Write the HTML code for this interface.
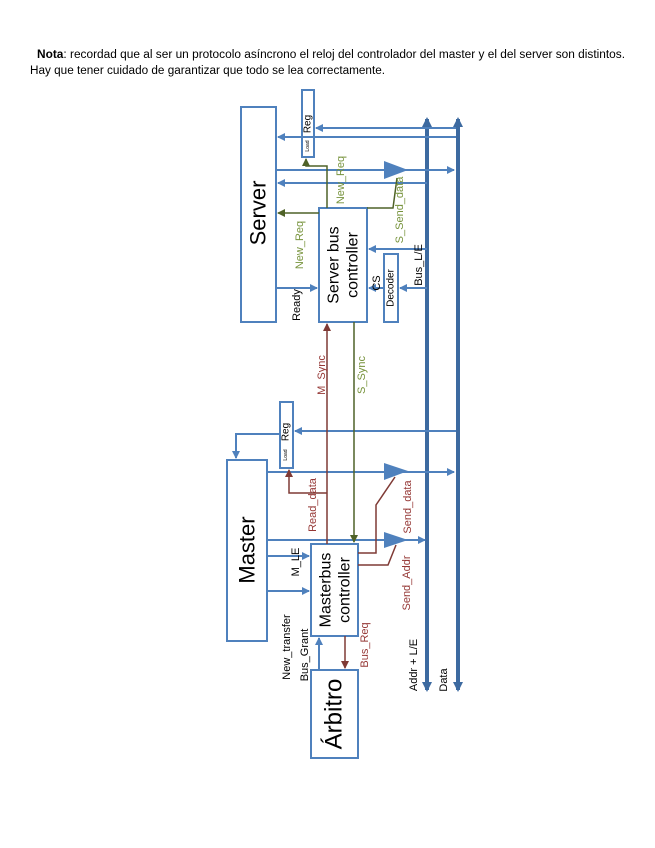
<!DOCTYPE html>
<html><head><meta charset="utf-8"><style>
html,body{margin:0;padding:0;background:#fff;}
svg{display:block;font-family:"Liberation Sans",sans-serif;}
</style></head><body>
<svg width="655" height="848" viewBox="0 0 655 848" xmlns="http://www.w3.org/2000/svg">
<defs>
<marker id="ab" markerWidth="8" markerHeight="8" refX="7" refY="4" orient="auto" markerUnits="userSpaceOnUse"><path d="M0,0 L8,4 L0,8 z" fill="#4f81bd"/></marker>
<marker id="ag" markerWidth="8" markerHeight="8" refX="7" refY="4" orient="auto" markerUnits="userSpaceOnUse"><path d="M0,0 L8,4 L0,8 z" fill="#4f6228"/></marker>
<marker id="ar" markerWidth="8" markerHeight="8" refX="7" refY="4" orient="auto" markerUnits="userSpaceOnUse"><path d="M0,0 L8,4 L0,8 z" fill="#7f3a35"/></marker>
<marker id="ad" markerWidth="10" markerHeight="10" refX="8" refY="5" orient="auto" markerUnits="userSpaceOnUse"><path d="M0,0 L10,5 L0,10 z" fill="#3d6aa0"/></marker>
</defs>
<text x="37" y="58" font-size="11.5" textLength="588" lengthAdjust="spacingAndGlyphs"><tspan font-weight="bold">Nota</tspan>: recordad que al ser un protocolo asíncrono el reloj del controlador del master y el del server son distintos.</text>
<text x="30" y="74" font-size="11.5" textLength="355" lengthAdjust="spacingAndGlyphs">Hay que tener cuidado de garantizar que todo se lea correctamente.</text>

<g fill="none" stroke="#4f81bd" stroke-width="2">
<!-- buses -->
<line x1="427" y1="690" x2="427" y2="119" stroke="#3d6aa0" stroke-width="4" marker-end="url(#ad)"/>
<line x1="458" y1="690" x2="458" y2="119" stroke="#3d6aa0" stroke-width="4" marker-end="url(#ad)"/>
<line x1="427" y1="660" x2="427" y2="690" stroke="#3d6aa0" stroke-width="4" marker-end="url(#ad)"/>
<line x1="458" y1="660" x2="458" y2="690" stroke="#3d6aa0" stroke-width="4" marker-end="url(#ad)"/>

<!-- server -->
<rect x="241" y="107" width="35" height="215"/>
<rect x="302" y="90" width="12" height="67"/>
<line x1="456" y1="128" x2="316" y2="128" marker-end="url(#ab)"/>
<line x1="456" y1="137" x2="278" y2="137" marker-end="url(#ab)"/>
<line x1="276" y1="170" x2="454" y2="170" marker-end="url(#ab)"/>
<line x1="427" y1="183" x2="278" y2="183" marker-end="url(#ab)"/>
<rect x="319" y="208" width="48" height="114"/>
<line x1="427" y1="249" x2="369" y2="249" marker-end="url(#ab)"/>
<rect x="384" y="254" width="14" height="68"/>
<line x1="427" y1="288" x2="400" y2="288" marker-end="url(#ab)"/>
<line x1="384" y1="288" x2="369" y2="288" marker-end="url(#ab)"/>
<line x1="276" y1="288" x2="317" y2="288" marker-end="url(#ab)"/>

<!-- master -->
<rect x="227" y="460" width="40" height="181"/>
<rect x="280" y="402" width="13" height="66"/>
<line x1="456" y1="431" x2="295" y2="431" marker-end="url(#ab)"/>
<polyline points="280,434 236,434 236,458" marker-end="url(#ab)"/>
<line x1="267" y1="472" x2="454" y2="472" marker-end="url(#ab)"/>
<line x1="267" y1="540" x2="425" y2="540" marker-end="url(#ab)"/>
<rect x="311" y="544" width="47" height="92"/>
<line x1="267" y1="556" x2="309" y2="556" marker-end="url(#ab)"/>
<line x1="267" y1="591" x2="309" y2="591" marker-end="url(#ab)"/>
<rect x="311" y="670" width="47" height="88"/>
<line x1="319" y1="670" x2="319" y2="638" marker-end="url(#ab)"/>
</g>
<polygon points="384,161 408,170 384,179" fill="#4f81bd"/>
<polygon points="384,463 408,471 384,480" fill="#4f81bd"/>
<polygon points="384,532 408,540 384,548" fill="#4f81bd"/>

<g fill="none" stroke="#4f6228" stroke-width="1.5">
<polyline points="327,208 327,166 306,166 306,159" marker-end="url(#ag)"/>
<line x1="319" y1="213" x2="278" y2="213" marker-end="url(#ag)"/>
<polyline points="367,208 393,208 397,178"/>
<line x1="354" y1="322" x2="354" y2="542" marker-end="url(#ag)"/>
</g>
<g fill="none" stroke="#7f3a35" stroke-width="1.5">
<line x1="327" y1="544" x2="327" y2="324" marker-end="url(#ar)"/>
<polyline points="327,493 289,493 289,470" marker-end="url(#ar)"/>
<polyline points="358,553 376,553 376,505 395,477"/>
<polyline points="358,565 388,565 396,545"/>
<line x1="345" y1="636" x2="345" y2="668" marker-end="url(#ar)"/>
</g>

<g dominant-baseline="central" text-anchor="middle">
<text transform="translate(258,213) rotate(-90)" font-size="22">Server</text>
<text transform="translate(334,265) rotate(-90)" font-size="16">Server bus</text>
<text transform="translate(353,265) rotate(-90)" font-size="16">controller</text>
<text transform="translate(391,288) rotate(-90)" font-size="10">Decoder</text>
<text transform="translate(308,124) rotate(-90)" font-size="10">Reg</text>
<text transform="translate(308,146) rotate(-90)" font-size="5">Load</text>
<text transform="translate(286,432) rotate(-90)" font-size="10">Reg</text>
<text transform="translate(286,455) rotate(-90)" font-size="5">Load</text>
<text transform="translate(247,550) rotate(-90)" font-size="22">Master</text>
<text transform="translate(326,590) rotate(-90)" font-size="16">Masterbus</text>
<text transform="translate(345,590) rotate(-90)" font-size="16">controller</text>
<text transform="translate(334,714) rotate(-90)" font-size="24">Árbitro</text>

<text transform="translate(341,180) rotate(-90)" font-size="11" fill="#77933c">New_Req</text>
<text transform="translate(300,245) rotate(-90)" font-size="11" fill="#77933c">New_Req</text>
<text transform="translate(400,210) rotate(-90)" font-size="11" fill="#77933c">S_Send_data</text>
<text transform="translate(419,265) rotate(-90)" font-size="11">Bus_L/E</text>
<text transform="translate(377,283) rotate(-90)" font-size="11">CS</text>
<text transform="translate(297,305) rotate(-90)" font-size="11">Ready</text>
<text transform="translate(322,375) rotate(-90)" font-size="11" fill="#953735">M_Sync</text>
<text transform="translate(362,375) rotate(-90)" font-size="11" fill="#77933c">S_Sync</text>
<text transform="translate(313,505) rotate(-90)" font-size="11" fill="#953735">Read_data</text>
<text transform="translate(408,507) rotate(-90)" font-size="11" fill="#953735">Send_data</text>
<text transform="translate(407,583) rotate(-90)" font-size="11" fill="#953735">Send_Addr</text>
<text transform="translate(296,562) rotate(-90)" font-size="11">M_LE</text>
<text transform="translate(287,647) rotate(-90)" font-size="11">New_transfer</text>
<text transform="translate(305,655) rotate(-90)" font-size="11">Bus_Grant</text>
<text transform="translate(365,645) rotate(-90)" font-size="11" fill="#953735">Bus_Req</text>
<text transform="translate(414,665) rotate(-90)" font-size="11">Addr + L/E</text>
<text transform="translate(444,680) rotate(-90)" font-size="11">Data</text>
</g>
</svg>
</body></html>
